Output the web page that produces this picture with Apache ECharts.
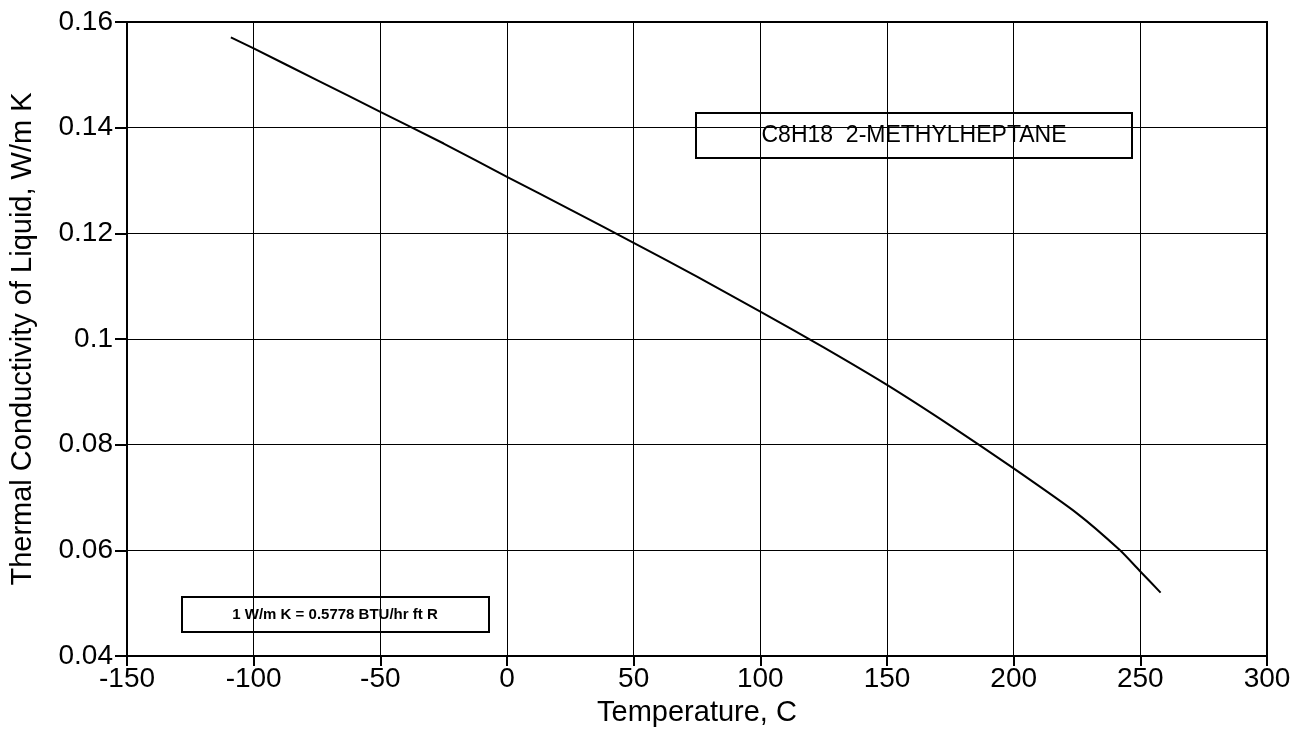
<!DOCTYPE html>
<html>
<head>
<meta charset="utf-8">
<script src="https://cdn.jsdelivr.net/npm/echarts@6/dist/echarts.min.js"></script>
<style>
html,body{margin:0;padding:0;background:#fff;}
#chart{width:1306px;height:736px;}
</style>
</head>
<body>
<div id="chart"></div>
<script>
// Temperature (C) and thermal conductivity of liquid (W/m K)
const temperatures = [-109, -100, -75, -50, -25, 0, 25, 50, 75, 100, 125, 150, 175, 200, 225, 242, 250, 258];
const conductivity = [0.1571, 0.1550, 0.1490, 0.1430, 0.1370, 0.1307, 0.1245, 0.1182, 0.1118, 0.1052, 0.0984, 0.0913, 0.0836, 0.0755, 0.0670, 0.0600, 0.0560, 0.0520];
const xTicks = [-150, -100, -50, 0, 50, 100, 150, 200, 250, 300];
const yTicks = [0.04, 0.06, 0.08, 0.1, 0.12, 0.14, 0.16];
const compoundLabel = 'C8H18  2-METHYLHEPTANE';
const conversionLabel = '1 W/m K = 0.5778 BTU/hr ft R';

const seriesData = temperatures.map((t, i) => [t, conductivity[i]]);
const font = '"Liberation Sans", Arial, Helvetica, sans-serif';

const chart = echarts.init(document.getElementById('chart'), null, {renderer: 'canvas'});
chart.setOption({
  animation: false,
  backgroundColor: '#fff',
  grid: {left: 127, right: 39, top: 22, bottom: 80, show: true, borderColor: '#000', borderWidth: 2, backgroundColor: 'transparent'},
  xAxis: {
    type: 'value', min: xTicks[0], max: xTicks[xTicks.length - 1], interval: 50,
    name: 'Temperature, C', nameLocation: 'middle', nameGap: 42,
    nameTextStyle: {fontFamily: font, fontSize: 29, color: '#000'},
    axisLine: {show: true, onZero: false, lineStyle: {color: '#000', width: 2}},
    axisTick: {show: true, length: 10, lineStyle: {color: '#000', width: 2}},
    axisLabel: {fontFamily: font, fontSize: 28, color: '#000', margin: 9},
    splitLine: {show: true, lineStyle: {color: '#000', width: 1}}
  },
  yAxis: {
    type: 'value', min: yTicks[0], max: yTicks[yTicks.length - 1], interval: 0.02,
    name: 'Thermal Conductivity of Liquid, W/m K', nameLocation: 'middle', nameGap: 90,
    nameTextStyle: {fontFamily: font, fontSize: 29, color: '#000'},
    axisLine: {show: true, onZero: false, lineStyle: {color: '#000', width: 2}},
    axisTick: {show: true, length: 12, lineStyle: {color: '#000', width: 2}},
    axisLabel: {fontFamily: font, fontSize: 28, color: '#000', margin: 14,
      formatter: v => String(parseFloat(v.toFixed(2)))},
    splitLine: {show: true, lineStyle: {color: '#000', width: 1}}
  },
  series: [{
    type: 'line', data: seriesData, showSymbol: false, smooth: 0.2,
    lineStyle: {color: '#000', width: 2}
  }],
  graphic: [
    {type: 'group', left: 695, top: 112, children: [
      {type: 'rect', shape: {x: 0, y: 0, width: 436, height: 45}, style: {fill: '#fff', stroke: '#000', lineWidth: 2}},
      {type: 'text', x: 218, y: 23, style: {text: compoundLabel, fontFamily: font, fontSize: 23, fill: '#000', align: 'center', verticalAlign: 'middle'}}
    ]},
    {type: 'group', left: 181, top: 596, children: [
      {type: 'rect', shape: {x: 0, y: 0, width: 307, height: 35}, style: {fill: '#fff', stroke: '#000', lineWidth: 2}},
      {type: 'text', x: 153, y: 18, style: {text: conversionLabel, fontFamily: font, fontSize: 15, fontWeight: 'bold', fill: '#000', align: 'center', verticalAlign: 'middle'}}
    ]}
  ]
});
</script>
</body>
</html>
